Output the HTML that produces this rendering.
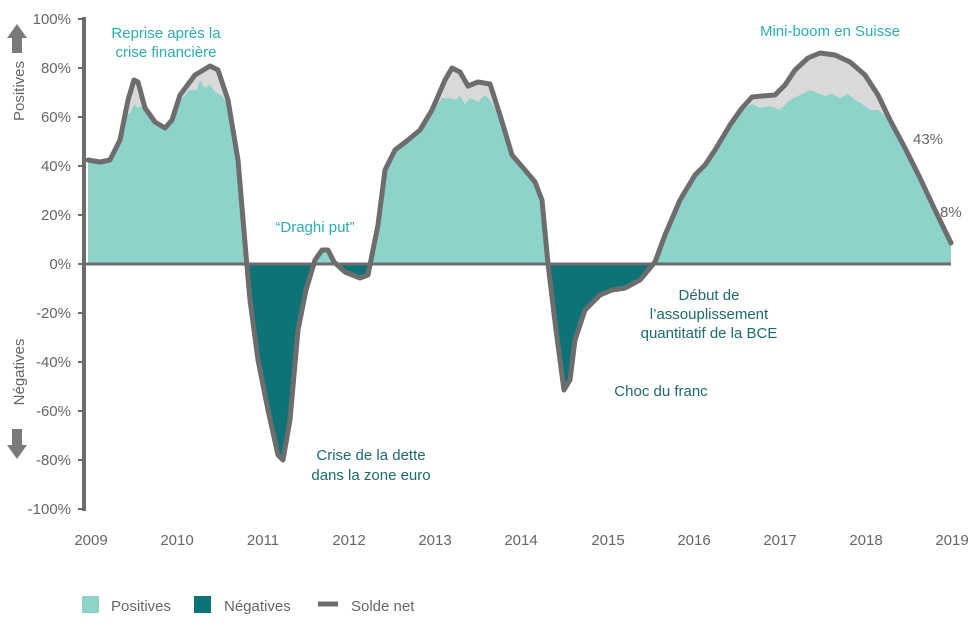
<!DOCTYPE html>
<html><head><meta charset="utf-8"><style>
body{margin:0;background:#fff;}
svg{display:block;font-family:"Liberation Sans","DejaVu Sans",sans-serif;}
</style></head><body>
<svg width="980" height="622" viewBox="0 0 980 622">
<defs>
<clipPath id="up"><rect x="0" y="0" width="980" height="264"/></clipPath>
<clipPath id="dn"><rect x="0" y="264" width="980" height="300"/></clipPath>
</defs>
<g id="netfill">
<path id="np" d="M88,264 L88,160 L100,162 L110,160 L120,140 L128,100 L134,80 L138,82 L145,108 L155,122 L165,128 L172,120 L180,95 L195,75 L210,66 L218,70 L228,100 L238,160 L246,255 L250,300 L258,360 L268,410 L278,455 L283,460 L290,420 L298,330 L306,290 L315,260 L322,250 L328,250 L334,262 L345,272 L360,278 L368,275 L378,225 L385,170 L395,150 L408,140 L420,130 L432,110 L445,80 L452,68 L460,72 L468,86 L478,82 L490,84 L500,115 L512,155 L525,170 L535,182 L542,200 L548,264 L556,330 L564,390 L570,380 L575,340 L585,310 L600,295 L612,290 L625,288 L640,280 L655,262 L665,235 L680,200 L695,175 L705,165 L715,150 L730,125 L742,108 L752,97 L762,96 L775,95 L785,85 L795,70 L808,58 L820,53 L835,55 L850,62 L865,75 L878,95 L890,120 L905,148 L920,178 L935,210 L951,243 L951,264 Z" fill="#d9d9d9" clip-path="url(#up)"/>
<path d="M88,264 L88,160 L100,162 L110,160 L120,140 L128,100 L134,80 L138,82 L145,108 L155,122 L165,128 L172,120 L180,95 L195,75 L210,66 L218,70 L228,100 L238,160 L246,255 L250,300 L258,360 L268,410 L278,455 L283,460 L290,420 L298,330 L306,290 L315,260 L322,250 L328,250 L334,262 L345,272 L360,278 L368,275 L378,225 L385,170 L395,150 L408,140 L420,130 L432,110 L445,80 L452,68 L460,72 L468,86 L478,82 L490,84 L500,115 L512,155 L525,170 L535,182 L542,200 L548,264 L556,330 L564,390 L570,380 L575,340 L585,310 L600,295 L612,290 L625,288 L640,280 L655,262 L665,235 L680,200 L695,175 L705,165 L715,150 L730,125 L742,108 L752,97 L762,96 L775,95 L785,85 L795,70 L808,58 L820,53 L835,55 L850,62 L865,75 L878,95 L890,120 L905,148 L920,178 L935,210 L951,243 L951,264 Z" fill="#0d7377" clip-path="url(#dn)"/>
</g>
<g fill="#8dd3ca">
<path d="M88,264 L88,160 L100,162 L110,160 L120,140 L127,115 L131,112 L134,104 L138,108 L142,106 L148,115 L155,122 L165,128 L172,120 L180,100 L190,90 L197,90 L200,80 L205,88 L210,85 L215,92 L222,96 L228,105 L238,160 L247,264 Z"/>
<path d="M316,264 L322,250 L328,250 L334,264 Z"/>
<path d="M372,264 L378,225 L385,170 L395,150 L408,140 L420,130 L432,112 L442,98 L450,98 L455,100 L460,96 L465,104 L470,98 L478,102 L485,95 L490,100 L500,118 L512,155 L525,170 L535,182 L542,200 L548,264 Z"/>
<path d="M652,264 L665,235 L680,200 L695,175 L705,165 L715,150 L730,125 L742,110 L752,104 L760,108 L770,106 L780,110 L790,100 L800,95 L810,90 L818,93 L825,96 L832,94 L840,98 L848,94 L855,100 L862,104 L870,110 L878,110 L890,120 L905,148 L920,178 L935,210 L951,243 L951,264 Z"/>
</g>
<line x1="84" y1="264" x2="951" y2="264" stroke="#6d6d6d" stroke-width="3"/>
<line x1="84" y1="17" x2="84" y2="511" stroke="#6d6d6d" stroke-width="4"/>
<g stroke="#6d6d6d" stroke-width="2">
<line x1="78" y1="19" x2="84" y2="19"/><line x1="78" y1="68" x2="84" y2="68"/><line x1="78" y1="117" x2="84" y2="117"/><line x1="78" y1="166" x2="84" y2="166"/><line x1="78" y1="215" x2="84" y2="215"/><line x1="78" y1="264" x2="84" y2="264"/><line x1="78" y1="313" x2="84" y2="313"/><line x1="78" y1="362" x2="84" y2="362"/><line x1="78" y1="411" x2="84" y2="411"/><line x1="78" y1="460" x2="84" y2="460"/><line x1="78" y1="509" x2="84" y2="509"/>
</g>
<polyline fill="none" stroke="#6d6d6d" stroke-width="5" stroke-linejoin="round" stroke-linecap="round" points="88,160 100,162 110,160 120,140 128,100 134,80 138,82 145,108 155,122 165,128 172,120 180,95 195,75 210,66 218,70 228,100 238,160 246,255 250,300 258,360 268,410 278,455 283,460 290,420 298,330 306,290 315,260 322,250 328,250 334,262 345,272 360,278 368,275 378,225 385,170 395,150 408,140 420,130 432,110 445,80 452,68 460,72 468,86 478,82 490,84 500,115 512,155 525,170 535,182 542,200 548,264 556,330 564,390 570,380 575,340 585,310 600,295 612,290 625,288 640,280 655,262 665,235 680,200 695,175 705,165 715,150 730,125 742,108 752,97 762,96 775,95 785,85 795,70 808,58 820,53 835,55 850,62 865,75 878,95 890,120 905,148 920,178 935,210 951,243"/>
<g font-size="15" fill="#666" text-anchor="end">
<text x="71" y="24">100%</text><text x="71" y="73">80%</text><text x="71" y="122">60%</text><text x="71" y="171">40%</text><text x="71" y="220">20%</text><text x="71" y="269">0%</text><text x="71" y="318">-20%</text><text x="71" y="367">-40%</text><text x="71" y="416">-60%</text><text x="71" y="465">-80%</text><text x="71" y="514">-100%</text>
</g>
<g font-size="15" fill="#666" text-anchor="middle">
<text x="91" y="545">2009</text><text x="177" y="545">2010</text><text x="263" y="545">2011</text><text x="349" y="545">2012</text><text x="435" y="545">2013</text><text x="521" y="545">2014</text><text x="608" y="545">2015</text><text x="694" y="545">2016</text><text x="780" y="545">2017</text><text x="866" y="545">2018</text><text x="952" y="545">2019</text>
</g>
<text transform="translate(24,91) rotate(-90)" font-size="15" fill="#666" text-anchor="middle">Positives</text>
<text transform="translate(24,372) rotate(-90)" font-size="15" fill="#666" text-anchor="middle">Négatives</text>
<path d="M12,53 L12,38 L7,38 L17,24 L27,38 L22,38 L22,53 Z" fill="#7a7a7a"/>
<path d="M12,429 L12,445 L7,445 L17,459 L27,445 L22,445 L22,429 Z" fill="#7a7a7a"/>
<g font-size="15" fill="#2aaeb0" text-anchor="middle">
<text x="166" y="38">Reprise après la</text><text x="166" y="57">crise financière</text>
<text x="830" y="36">Mini-boom en Suisse</text>
<text x="315" y="232">“Draghi put”</text>
</g>
<g font-size="15" fill="#1d6b6e" text-anchor="middle">
<text x="371" y="460">Crise de la dette</text><text x="371" y="480">dans la zone euro</text>
<text x="661" y="396">Choc du franc</text>
<text x="709" y="300">Début de</text><text x="709" y="319">l’assouplissement</text><text x="709" y="338">quantitatif de la BCE</text>
</g>
<g font-size="15" fill="#666">
<text x="913" y="144">43%</text><text x="940" y="217">8%</text>
</g>
<rect x="82" y="596" width="17" height="17" fill="#8dd3ca"/>
<text x="111" y="611" font-size="15" fill="#666">Positives</text>
<rect x="194" y="596" width="17" height="17" fill="#0d7377"/>
<text x="224" y="611" font-size="15" fill="#666">Négatives</text>
<line x1="318" y1="604" x2="338" y2="604" stroke="#6d6d6d" stroke-width="5"/>
<text x="351" y="611" font-size="15" fill="#666">Solde net</text>
</svg>
</body></html>
